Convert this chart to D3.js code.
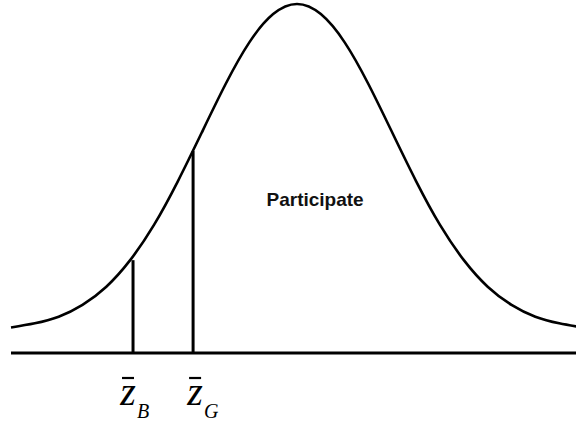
<!DOCTYPE html>
<html>
<head>
<meta charset="utf-8">
<script src="https://cdn.jsdelivr.net/npm/d3@7"></script>
<style>
  body { margin: 0; background: #fff; }
  svg { display: block; }
</style>
</head>
<body>
<div id="chart"></div>
<script>
// --- data ---
// standardised index (z) and curve height relative to the peak
var curveZ = [-3, -2.75, -2.5, -2.25, -2, -1.75, -1.5, -1.25, -1, -0.75, -0.5, -0.25, 0,
              0.25, 0.5, 0.75, 1, 1.25, 1.5, 1.75, 2, 2.25, 2.5, 2.75, 3];
var curveH = [0.073, 0.085, 0.104, 0.138, 0.19, 0.266, 0.367, 0.492, 0.631, 0.77, 0.89, 0.971, 1,
              0.971, 0.89, 0.77, 0.631, 0.492, 0.367, 0.266, 0.19, 0.138, 0.104, 0.085, 0.073];

// cut-off markers
var markerZ = [-1.72, -1.09];
var markerH = [0.266, 0.579];
var markerSub = ["B", "G"];

var regionLabel = "Participate";
var regionZ = 0.19;
var regionH = 0.42;

// --- setup ---
var width = 576, height = 423;
var baseY = 353;

var svg = d3.select("#chart").append("svg")
  .attr("width", width)
  .attr("height", height);

var x = d3.scaleLinear().domain([-3, 3]).range([11, 583]);
var y = d3.scaleLinear().domain([0, 1]).range([baseY, 4]);

// baseline
svg.append("line")
  .attr("x1", x(-3)).attr("x2", width)
  .attr("y1", baseY).attr("y2", baseY)
  .attr("stroke", "#000").attr("stroke-width", 3);

// bell curve
var line = d3.line()
  .x(function(d, i) { return x(curveZ[i]); })
  .y(function(d) { return y(d); })
  .curve(d3.curveNatural);

svg.append("path")
  .datum(curveH)
  .attr("d", line)
  .attr("fill", "none")
  .attr("stroke", "#000")
  .attr("stroke-width", 2.6);

// vertical cut-offs
svg.selectAll(".cut")
  .data(markerZ)
  .enter().append("line")
  .attr("class", "cut")
  .attr("x1", function(d) { return x(d); })
  .attr("x2", function(d) { return x(d); })
  .attr("y1", baseY)
  .attr("y2", function(d, i) { return y(markerH[i]); })
  .attr("stroke", "#000").attr("stroke-width", 3);

// z-bar labels
var labelDx = [-5, 2];
var lab = svg.selectAll(".zlab")
  .data(markerZ)
  .enter().append("g")
  .attr("class", "zlab")
  .attr("transform", function(d, i) { return "translate(" + (x(d) + labelDx[i]) + ",0)"; });

lab.append("text")
  .attr("x", 0).attr("y", 405)
  .attr("text-anchor", "middle")
  .style("font-family", "'Liberation Serif', 'Times New Roman', serif")
  .style("font-style", "italic")
  .style("font-size", "40px")
  .text("z");

lab.append("line")
  .attr("x1", -6).attr("x2", 6)
  .attr("y1", 378).attr("y2", 378)
  .attr("stroke", "#000").attr("stroke-width", 2.2);

lab.append("text")
  .attr("x", 9).attr("y", 418)
  .style("font-family", "'Liberation Serif', 'Times New Roman', serif")
  .style("font-style", "italic")
  .style("font-size", "20px")
  .text(function(d, i) { return markerSub[i]; });

// region label
svg.append("text")
  .attr("x", x(regionZ)).attr("y", y(regionH))
  .attr("text-anchor", "middle")
  .style("font-family", "'Liberation Sans', Arial, sans-serif")
  .style("font-weight", "bold")
  .style("font-size", "19px")
  .attr("fill", "#111")
  .text(regionLabel);
</script>
</body>
</html>
